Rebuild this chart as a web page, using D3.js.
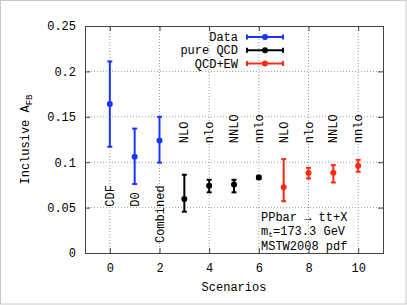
<!DOCTYPE html>
<html lang="en">
<head>
<meta charset="utf-8">
<title>Inclusive AFB</title>
<script src="https://d3js.org/d3.v7.min.js"></script>
<style>
  body { margin: 0; background: #fff; }
  svg text { font-family: "Liberation Mono", "DejaVu Sans Mono", monospace; font-size: 12px; fill: #000; }
</style>
</head>
<body>
<div id="chart"></div>
<script>
// values
const xTicks = [0, 2, 4, 6, 8, 10];
const yTicks = [0, 0.05, 0.1, 0.15, 0.2, 0.25];

const dataX   = [0, 1, 2];
const dataVal = [0.164, 0.106, 0.124];
const dataLo  = [0.117, 0.076, 0.0995];
const dataHi  = [0.211, 0.137, 0.150];
const dataNames = ["CDF", "D0", "Combined"];
const dataLabelY = [0.051, 0.051, 0.011];

const qcdX   = [3, 4, 5, 6];
const qcdVal = [0.0596, 0.074, 0.0755, 0.0832];
const qcdLo  = [0.0455, 0.0668, 0.0668, 0.0815];
const qcdHi  = [0.0862, 0.0806, 0.0806, 0.085];

const ewX   = [7, 8, 9, 10];
const ewVal = [0.0725, 0.088, 0.0883, 0.096];
const ewLo  = [0.057, 0.082, 0.0777, 0.0895];
const ewHi  = [0.1034, 0.0938, 0.0968, 0.1026];

const orderNames = ["NLO", "nlo", "NNLO", "nnlo", "NLO", "nlo", "NNLO", "nnlo"];
const orderX = [3, 4, 5, 6, 7, 8, 9, 10];
const orderLabelY = 0.121;

const seriesNames = ["Data", "pure QCD", "QCD+EW"];
const seriesColors = ["#1a35ff", "#000000", "#ff2a14"];

const W = 407, H = 305;
const margin = {top: 26, right: 24, bottom: 52, left: 85};

const svg = d3.select("#chart").append("svg")
    .attr("width", W).attr("height", H);

// light outer frame
svg.append("rect")
    .attr("x", 0.5).attr("y", 0.5)
    .attr("width", W - 1.5).attr("height", H - 1.5)
    .attr("fill", "none").attr("stroke", "#c8c8c8");

const x = d3.scaleLinear().domain([-1, 11]).range([margin.left, W - margin.right]);
const y = d3.scaleLinear().domain([0, 0.25]).range([H - margin.bottom, margin.top]);

const g = svg.append("g");

// grid
g.selectAll(".vgrid").data(xTicks).enter().append("line")
    .attr("x1", d => x(d)).attr("x2", d => x(d))
    .attr("y1", y(0)).attr("y2", y(0.25))
    .attr("stroke", "#a0a0a0").attr("stroke-dasharray", "1,2");
g.selectAll(".hgrid").data(yTicks.slice(1, -1)).enter().append("line")
    .attr("x1", x(-1)).attr("x2", x(11))
    .attr("y1", d => y(d)).attr("y2", d => y(d))
    .attr("stroke", "#a0a0a0").attr("stroke-dasharray", "1,2");

// axes, gnuplot style: ticks inward, mirrored
const fmtY = d => d === 0 ? "0" : String(d);
const axL = svg.append("g").attr("transform", `translate(${x(-1)},0)`)
    .call(d3.axisLeft(y).tickValues(yTicks).tickFormat(fmtY).tickSizeInner(-5).tickSizeOuter(0).tickPadding(9));
const axR = svg.append("g").attr("transform", `translate(${x(11)},0)`)
    .call(d3.axisRight(y).tickValues(yTicks).tickFormat("").tickSizeInner(-5).tickSizeOuter(0));
const axB = svg.append("g").attr("transform", `translate(0,${y(0)})`)
    .call(d3.axisBottom(x).tickValues(xTicks).tickFormat(d3.format("d")).tickSizeInner(-5).tickSizeOuter(0).tickPadding(10));
const axT = svg.append("g").attr("transform", `translate(0,${y(0.25)})`)
    .call(d3.axisTop(x).tickValues(xTicks).tickFormat("").tickSizeInner(-5).tickSizeOuter(0));
[axL, axR, axB, axT].forEach(a => {
  a.select(".domain").remove();
  a.selectAll("line").attr("stroke", "#444");
  a.selectAll("text").attr("fill", "#000");
});

// frame
svg.append("rect")
    .attr("x", x(-1) + 0.5).attr("y", y(0.25) + 0.5)
    .attr("width", x(11) - x(-1)).attr("height", y(0) - y(0.25))
    .attr("fill", "none").attr("stroke", "#444");

// error bars
function drawSeries(xs, vals, lo, hi, color) {
  const grp = svg.append("g");
  const rows = xs.map((d, i) => ({x: d, v: vals[i], lo: lo[i], hi: hi[i]}));
  grp.selectAll(".bar").data(rows).enter().append("line")
      .attr("x1", d => x(d.x)).attr("x2", d => x(d.x))
      .attr("y1", d => y(d.lo)).attr("y2", d => y(d.hi))
      .attr("stroke", color).attr("stroke-width", 2);
  ["lo", "hi"].forEach(k => {
    grp.selectAll(".cap" + k).data(rows).enter().append("line")
        .attr("x1", d => x(d.x) - 2.5).attr("x2", d => x(d.x) + 2.5)
        .attr("y1", d => y(d[k])).attr("y2", d => y(d[k]))
        .attr("stroke", color).attr("stroke-width", 2);
  });
  grp.selectAll(".pt").data(rows).enter().append("circle")
      .attr("cx", d => x(d.x)).attr("cy", d => y(d.v))
      .attr("r", 3).attr("fill", color);
}
drawSeries(dataX, dataVal, dataLo, dataHi, seriesColors[0]);
drawSeries(qcdX, qcdVal, qcdLo, qcdHi, seriesColors[1]);
drawSeries(ewX, ewVal, ewLo, ewHi, seriesColors[2]);

// rotated point labels
svg.selectAll(".dname").data(dataNames).enter().append("text")
    .attr("transform", (d, i) => `translate(${x(dataX[i]) + 4},${y(dataLabelY[i])}) rotate(-90)`)
    .attr("text-anchor", "start")
    .text(d => d);
svg.selectAll(".oname").data(orderNames).enter().append("text")
    .attr("transform", (d, i) => `translate(${x(orderX[i]) + 4},${y(orderLabelY)}) rotate(-90)`)
    .attr("text-anchor", "start")
    .text(d => d);

// legend
const leg = svg.append("g");
seriesNames.forEach((name, i) => {
  const cy = 37 + i * 13.3;
  leg.append("text").attr("x", 238).attr("y", cy + 4)
      .attr("text-anchor", "end").text(name);
  leg.append("line").attr("x1", 247).attr("x2", 283).attr("y1", cy).attr("y2", cy)
      .attr("stroke", seriesColors[i]).attr("stroke-width", 2);
  [247, 283].forEach(px => {
    leg.append("line").attr("x1", px).attr("x2", px).attr("y1", cy - 2.5).attr("y2", cy + 2.5)
        .attr("stroke", seriesColors[i]).attr("stroke-width", 2);
  });
  leg.append("circle").attr("cx", 265).attr("cy", cy).attr("r", 3).attr("fill", seriesColors[i]);
});

// info box text
const info = svg.append("g");
info.append("text").attr("x", 261).attr("y", 221).text("PPbar \u2192 tt+X");
const mt = info.append("text").attr("x", 261).attr("y", 235);
mt.append("tspan").text("m");
mt.append("tspan").attr("dy", 2).style("font-size", "8px").text("t");
mt.append("tspan").attr("dy", -2).text("=173.3 GeV");
info.append("text").attr("x", 261).attr("y", 250).text("MSTW2008 pdf");

// axis titles
const yl = svg.append("text")
    .attr("transform", `translate(29,${(y(0) + y(0.25)) / 2}) rotate(-90)`)
    .attr("text-anchor", "middle");
yl.append("tspan").text("Inclusive A");
yl.append("tspan").attr("dy", 3).style("font-size", "9px").text("FB");

svg.append("text").attr("x", (x(-1) + x(11)) / 2).attr("y", 291)
    .attr("text-anchor", "middle").text("Scenarios");
</script>
</body>
</html>
